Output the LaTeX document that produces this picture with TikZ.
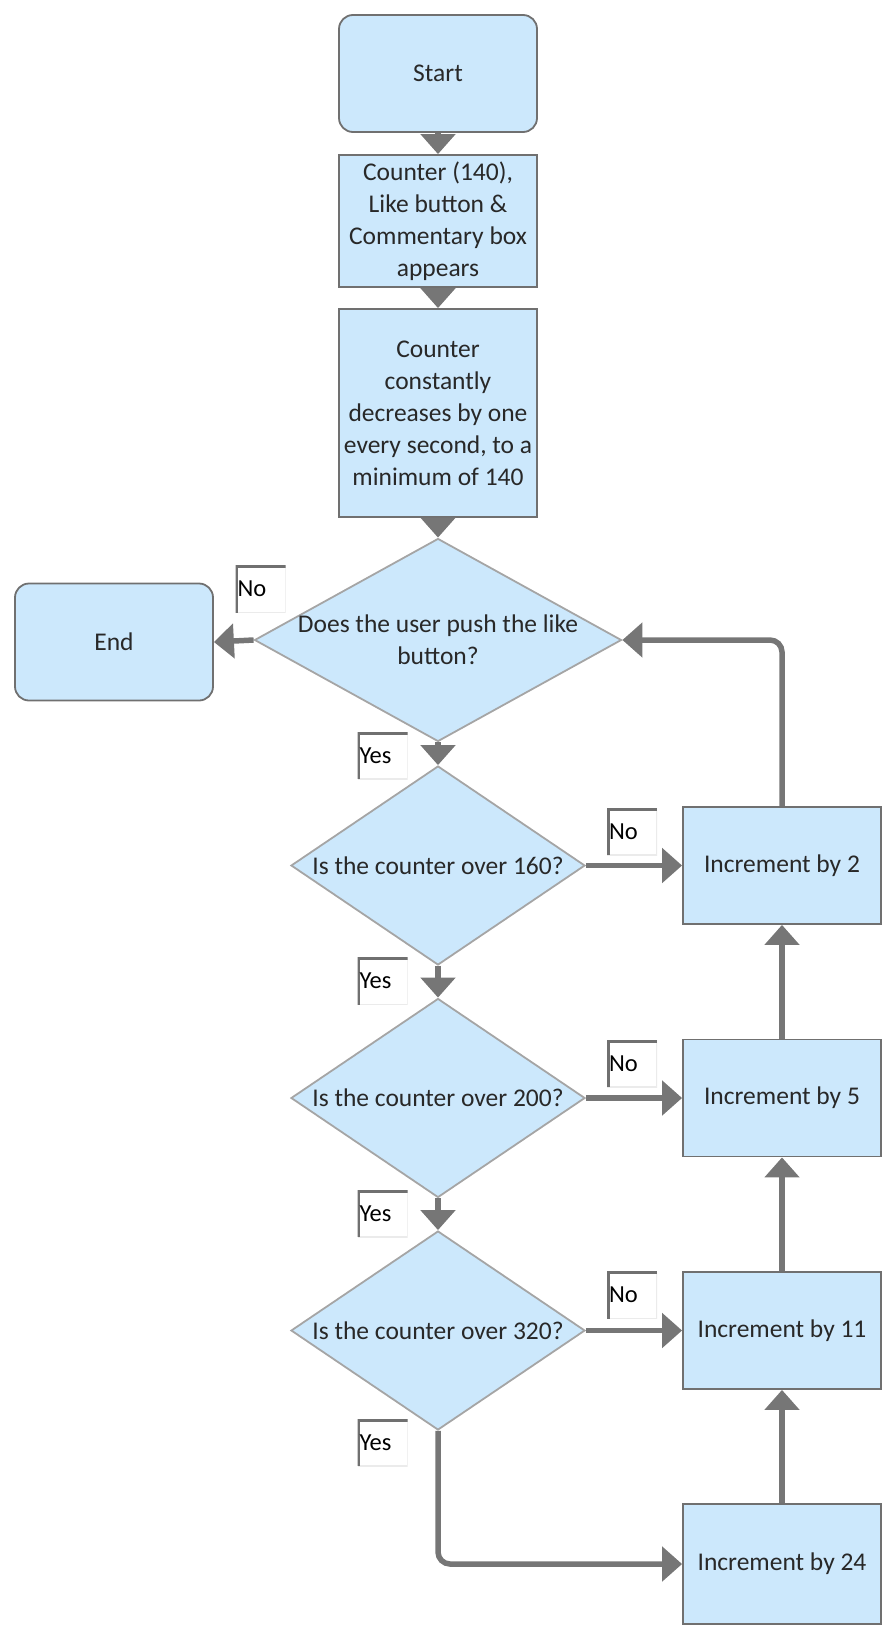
\documentclass[tikz,border=0pt]{standalone}
\usepackage{fontspec}
\setmainfont{Carlito}
\usetikzlibrary{shapes.geometric,arrows.meta}
\definecolor{boxfill}{RGB}{204,232,252}
\definecolor{boxline}{RGB}{112,112,112}
\definecolor{diaLine}{RGB}{165,165,165}
\definecolor{arrowgray}{RGB}{118,118,118}
\definecolor{txt}{RGB}{40,40,40}
% zero-width line so that a diamond's size is set only by its minimum width and height
\newcommand{\zline}[1]{\makebox[0pt]{#1}}
\begin{document}
\begin{tikzpicture}[x=1pt,y=-1pt,
  base/.style={fill=boxfill,text=txt,font=\fontsize{25.5}{32}\selectfont,align=center,inner sep=2pt},
  terminal/.style={base,draw=boxline,line width=1.8pt,rounded corners=14pt,minimum width=198pt,minimum height=117pt},
  process/.style={base,draw=boxline,line width=1.8pt,minimum width=198pt},
  decision/.style={base,draw=diaLine,line width=1.8pt,shape=diamond,inner sep=0pt,aspect=1.48,minimum width=294pt,minimum height=199pt},
  tag/.style={fill=white,text=black,font=\fontsize{24.5}{28}\selectfont,minimum width=50pt,minimum height=47pt,
    text width=46pt,align=left,inner sep=2pt,
    path picture={
      \draw[line width=2pt,black!8] (path picture bounding box.north east) -- (path picture bounding box.south east) -- (path picture bounding box.south west);
      \draw[line width=5pt,boxline] (path picture bounding box.south west) -- (path picture bounding box.north west) -- (path picture bounding box.north east);}},
  flow/.style={draw=arrowgray,line width=5.5pt,-{Triangle[width=34pt,length=20pt]}}
]
\useasboundingbox (0,0) rectangle (891,1630);

% main column
\node[terminal] (start) at (438,73.5) {Start};
\node[process,minimum height=132pt] (show) at (438,221) {Counter (140),\\Like button \&\\Commentary box\\appears};
\node[process,minimum height=208pt] (decay) at (438,413) {Counter\\constantly\\decreases by one\\every second, to a\\minimum of 140};
\node[decision,aspect=1.81,minimum width=367pt,minimum height=203pt] (push) at (438,640) {\zline{Does the user push the like}\\\zline{button?}};
\node[terminal] (end) at (114,642) {End};
\node[decision] (q160) at (438,865.5) {\zline{Is the counter over 160?}};
\node[decision] (q200) at (438,1098) {\zline{Is the counter over 200?}};
\node[decision] (q320) at (438,1330.5) {\zline{Is the counter over 320?}};

% increment column
\node[process,minimum height=117pt] (inc2) at (782,865.5) {Increment by 2};
\node[process,minimum height=117pt] (inc5) at (782,1098) {Increment by 5};
\node[process,minimum height=117pt] (inc11) at (782,1330.5) {Increment by 11};
\node[process,minimum height=120pt] (inc24) at (782,1564) {Increment by 24};

% connectors
\draw[flow] (start) -- (show);
\draw[flow] (show) -- (decay);
\draw[flow] (decay) -- (push.north);
\draw[flow] (push.west) -- (end.east);
\draw[flow] (push.south) -- (q160.north);
\draw[flow] (q160.south) -- (q200.north);
\draw[flow] (q200.south) -- (q320.north);
\draw[flow] (q160.east) -- (inc2.west);
\draw[flow] (q200.east) -- (inc5.west);
\draw[flow] (q320.east) -- (inc11.west);
\draw[flow,rounded corners=12pt] (q320.south) |- (inc24.west);
\draw[flow] (inc24) -- (inc11);
\draw[flow] (inc11) -- (inc5);
\draw[flow] (inc5) -- (inc2);
\draw[flow,rounded corners=12pt] (inc2.north) |- (push.east);

% branch tags
\node[tag] (tEnd) at (260.5,589) {No};
\node[tag] (tY1) at (382.5,755.5) {Yes};
\node[tag] (tY2) at (382.5,981) {Yes};
\node[tag] (tY3) at (382.5,1213.5) {Yes};
\node[tag] (tY4) at (382.5,1442.5) {Yes};
\node[tag] (tN1) at (632,831.5) {No};
\node[tag] (tN2) at (632,1063.5) {No};
\node[tag] (tN3) at (632,1295) {No};
\end{tikzpicture}
\end{document}
